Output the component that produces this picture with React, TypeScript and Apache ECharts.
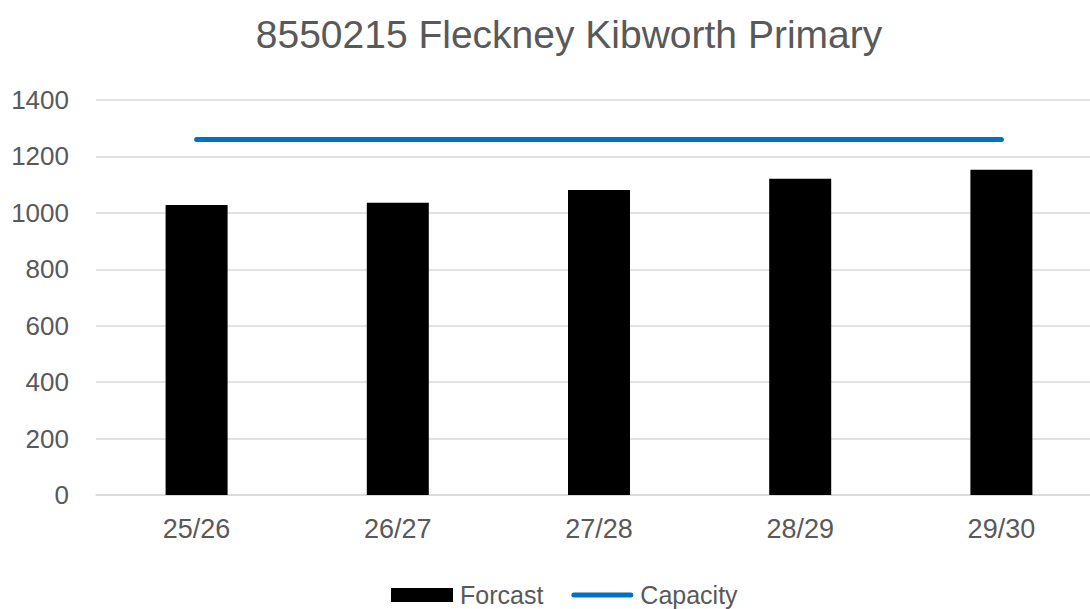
import React, { useEffect, useRef } from "react";
import * as echarts from "echarts";

const categories = ["25/26", "26/27", "27/28", "28/29", "29/30"];
const forecast = [1028, 1036, 1081, 1121, 1153];
const capacity = [1260, 1260, 1260, 1260, 1260];
const title = "8550215 Fleckney Kibworth Primary";

export default function App() {
  const ref = useRef<HTMLDivElement>(null);
  useEffect(() => {
    if (!ref.current) return;
    const chart = echarts.init(ref.current, null, { renderer: "svg" });
    const font = "'Liberation Sans', Arial, sans-serif";
    chart.setOption({
      animation: false,
      backgroundColor: "#ffffff",
      textStyle: { fontFamily: font },
      title: {
        text: title,
        left: 564,
        textAlign: "center",
        top: 10,
        textStyle: { fontSize: 39, fontWeight: "normal", color: "#595959", fontFamily: font },
      },
      legend: {
        top: 582,
        left: 391,
        padding: 0,
        itemWidth: 62,
        itemHeight: 14,
        itemGap: 28,
        symbolKeepAspect: true,
        textStyle: { fontSize: 25, color: "#595959", padding: [0, 0, 0, 2], lineHeight: 26 },
        data: [
          { name: "Forcast", icon: "rect" },
          {
            name: "Capacity",
            icon: "path://M2.5,0 H59.5 A2.5,2.5 0 0 1 59.5,5 H2.5 A2.5,2.5 0 0 1 2.5,0 Z",
          },
        ],
      },
      grid: { left: 96, top: 100, width: 1006, height: 395, containLabel: false, outerBoundsMode: "none" },
      xAxis: {
        type: "category",
        data: categories,
        boundaryGap: true,
        axisLine: { lineStyle: { color: "#d9d9d9", width: 1.5 } },
        axisTick: { show: false },
        axisLabel: { fontSize: 27, color: "#595959", margin: 20 },
      },
      yAxis: {
        type: "value",
        min: 0,
        max: 1400,
        interval: 200,
        axisLine: { show: false },
        axisTick: { show: false },
        splitLine: { lineStyle: { color: "#d9d9d9", width: 1.5 } },
        axisLabel: { fontSize: 26, color: "#595959", margin: 27, formatter: (v: number) => String(v) },
      },
      series: [
        {
          name: "Forcast",
          type: "bar",
          data: forecast,
          barWidth: 62,
          itemStyle: { color: "#000000" },
        },
        {
          name: "Capacity",
          type: "line",
          data: capacity,
          symbol: "none",
          lineStyle: { color: "#0070C0", width: 5, cap: "round" },
          itemStyle: { color: "#0070C0" },
        },
      ],
    });
    return () => chart.dispose();
  }, []);
  return <div ref={ref} style={{ width: 1090, height: 609, position: "absolute", left: 0, top: 0 }} />;
}
